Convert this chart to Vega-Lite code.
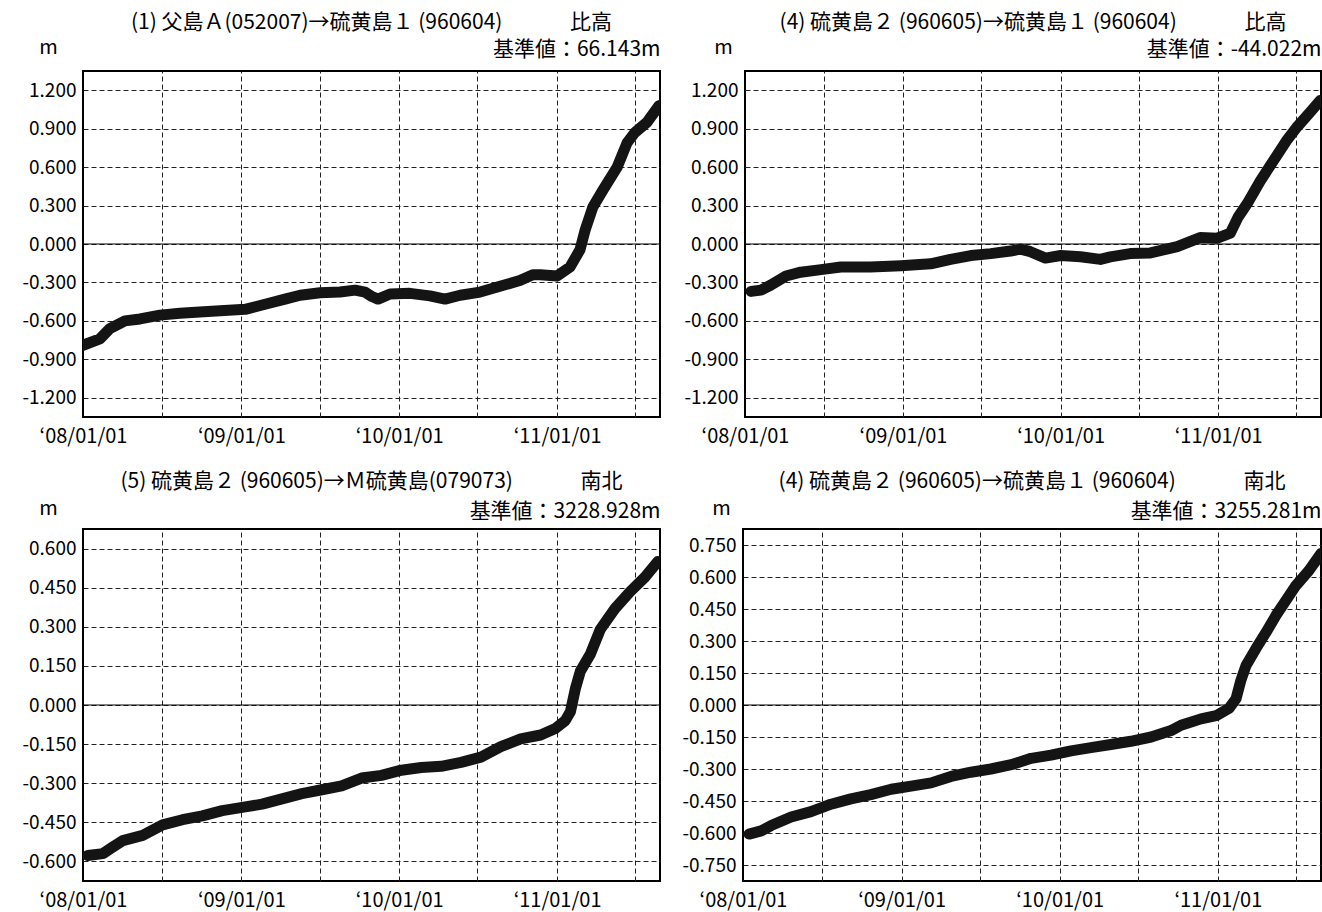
{
  "$schema": "https://vega.github.io/schema/vega-lite/v6.json",
  "background": "white",
  "padding": {"left": 4, "top": 11, "right": 0, "bottom": 0},
  "spacing": 23,
  "config": {
    "view": {"stroke": "#000", "strokeWidth": 2},
    "font": "Noto Sans CJK JP",
    "title": {"font": "Noto Sans CJK JP", "fontSize": 21, "fontWeight": "normal", "color": "#000", "offset": 4, "anchor": "middle"},
    "axis": {"labelFont": "Noto Sans CJK JP", "labelFontSize": 19, "labelColor": "#000", "titleFont": "Noto Sans CJK JP", "titleFontSize": 21, "titleFontWeight": "normal", "titleColor": "#000", "domain": false, "ticks": false, "gridColor": "#222", "gridDash": [5, 3], "gridWidth": 1, "gridOpacity": 1}
  },
  "datasets": {
    "p1": [
      {"date": "2008-01-01", "v": -0.79}, {"date": "2008-02-09", "v": -0.74}, {"date": "2008-03-03", "v": -0.66}, {"date": "2008-04-07", "v": -0.6}, {"date": "2008-05-12", "v": -0.585}, {"date": "2008-06-27", "v": -0.555}, {"date": "2008-08-12", "v": -0.54}, {"date": "2008-09-27", "v": -0.53}, {"date": "2008-11-13", "v": -0.52}, {"date": "2009-01-10", "v": -0.51}, {"date": "2009-02-25", "v": -0.47}, {"date": "2009-04-12", "v": -0.43}, {"date": "2009-05-17", "v": -0.4}, {"date": "2009-07-02", "v": -0.38}, {"date": "2009-08-17", "v": -0.375}, {"date": "2009-09-21", "v": -0.36}, {"date": "2009-10-14", "v": -0.375}, {"date": "2009-10-30", "v": -0.41}, {"date": "2009-11-13", "v": -0.43}, {"date": "2009-12-11", "v": -0.39}, {"date": "2010-01-26", "v": -0.385}, {"date": "2010-03-13", "v": -0.405}, {"date": "2010-04-17", "v": -0.43}, {"date": "2010-05-22", "v": -0.4}, {"date": "2010-07-07", "v": -0.375}, {"date": "2010-08-22", "v": -0.33}, {"date": "2010-10-07", "v": -0.285}, {"date": "2010-11-06", "v": -0.24}, {"date": "2010-11-23", "v": -0.24}, {"date": "2011-01-01", "v": -0.25}, {"date": "2011-01-31", "v": -0.18}, {"date": "2011-02-23", "v": -0.045}, {"date": "2011-03-07", "v": 0.11}, {"date": "2011-03-25", "v": 0.29}, {"date": "2011-04-17", "v": 0.42}, {"date": "2011-05-20", "v": 0.6}, {"date": "2011-06-12", "v": 0.79}, {"date": "2011-06-30", "v": 0.87}, {"date": "2011-07-28", "v": 0.95}, {"date": "2011-08-25", "v": 1.08}
    ],
    "p2": [
      {"date": "2008-01-15", "v": -0.37}, {"date": "2008-02-07", "v": -0.36}, {"date": "2008-03-01", "v": -0.32}, {"date": "2008-04-05", "v": -0.25}, {"date": "2008-05-09", "v": -0.22}, {"date": "2008-06-25", "v": -0.2}, {"date": "2008-08-10", "v": -0.18}, {"date": "2008-10-18", "v": -0.18}, {"date": "2008-12-27", "v": -0.17}, {"date": "2009-03-06", "v": -0.155}, {"date": "2009-04-21", "v": -0.12}, {"date": "2009-06-07", "v": -0.09}, {"date": "2009-07-23", "v": -0.075}, {"date": "2009-09-07", "v": -0.055}, {"date": "2009-09-30", "v": -0.04}, {"date": "2009-10-23", "v": -0.06}, {"date": "2009-11-27", "v": -0.11}, {"date": "2010-01-01", "v": -0.09}, {"date": "2010-02-16", "v": -0.1}, {"date": "2010-04-03", "v": -0.12}, {"date": "2010-04-26", "v": -0.1}, {"date": "2010-06-11", "v": -0.075}, {"date": "2010-07-28", "v": -0.07}, {"date": "2010-09-28", "v": -0.02}, {"date": "2010-11-20", "v": 0.05}, {"date": "2010-12-30", "v": 0.045}, {"date": "2011-01-29", "v": 0.085}, {"date": "2011-02-16", "v": 0.21}, {"date": "2011-03-09", "v": 0.315}, {"date": "2011-04-08", "v": 0.49}, {"date": "2011-05-08", "v": 0.645}, {"date": "2011-06-10", "v": 0.815}, {"date": "2011-07-03", "v": 0.915}, {"date": "2011-08-02", "v": 1.03}, {"date": "2011-08-25", "v": 1.12}
    ],
    "p3": [
      {"date": "2008-01-12", "v": -0.577}, {"date": "2008-02-16", "v": -0.57}, {"date": "2008-03-05", "v": -0.55}, {"date": "2008-04-02", "v": -0.52}, {"date": "2008-05-18", "v": -0.5}, {"date": "2008-07-03", "v": -0.46}, {"date": "2008-08-18", "v": -0.44}, {"date": "2008-10-03", "v": -0.425}, {"date": "2008-11-18", "v": -0.405}, {"date": "2009-01-14", "v": -0.39}, {"date": "2009-02-18", "v": -0.38}, {"date": "2009-04-05", "v": -0.36}, {"date": "2009-05-21", "v": -0.34}, {"date": "2009-07-06", "v": -0.325}, {"date": "2009-08-21", "v": -0.31}, {"date": "2009-10-06", "v": -0.28}, {"date": "2009-11-21", "v": -0.27}, {"date": "2010-01-06", "v": -0.25}, {"date": "2010-02-21", "v": -0.24}, {"date": "2010-04-08", "v": -0.235}, {"date": "2010-05-24", "v": -0.22}, {"date": "2010-07-09", "v": -0.2}, {"date": "2010-08-24", "v": -0.16}, {"date": "2010-10-09", "v": -0.13}, {"date": "2010-11-24", "v": -0.115}, {"date": "2010-12-28", "v": -0.09}, {"date": "2011-01-20", "v": -0.06}, {"date": "2011-02-01", "v": -0.025}, {"date": "2011-02-12", "v": 0.06}, {"date": "2011-02-24", "v": 0.13}, {"date": "2011-03-19", "v": 0.195}, {"date": "2011-04-11", "v": 0.29}, {"date": "2011-05-15", "v": 0.37}, {"date": "2011-06-19", "v": 0.435}, {"date": "2011-07-23", "v": 0.49}, {"date": "2011-08-22", "v": 0.55}
    ],
    "p4": [
      {"date": "2008-01-15", "v": -0.605}, {"date": "2008-02-12", "v": -0.59}, {"date": "2008-03-06", "v": -0.565}, {"date": "2008-04-21", "v": -0.525}, {"date": "2008-06-06", "v": -0.5}, {"date": "2008-07-22", "v": -0.465}, {"date": "2008-09-06", "v": -0.44}, {"date": "2008-10-22", "v": -0.42}, {"date": "2008-12-08", "v": -0.395}, {"date": "2009-01-23", "v": -0.38}, {"date": "2009-03-10", "v": -0.365}, {"date": "2009-04-25", "v": -0.335}, {"date": "2009-06-10", "v": -0.315}, {"date": "2009-07-26", "v": -0.3}, {"date": "2009-09-11", "v": -0.28}, {"date": "2009-10-27", "v": -0.25}, {"date": "2009-12-12", "v": -0.235}, {"date": "2010-01-27", "v": -0.215}, {"date": "2010-03-14", "v": -0.2}, {"date": "2010-04-29", "v": -0.185}, {"date": "2010-06-14", "v": -0.17}, {"date": "2010-07-31", "v": -0.15}, {"date": "2010-09-15", "v": -0.12}, {"date": "2010-10-08", "v": -0.095}, {"date": "2010-11-23", "v": -0.065}, {"date": "2010-12-28", "v": -0.05}, {"date": "2011-01-27", "v": -0.015}, {"date": "2011-02-12", "v": 0.03}, {"date": "2011-02-23", "v": 0.115}, {"date": "2011-03-07", "v": 0.185}, {"date": "2011-03-30", "v": 0.265}, {"date": "2011-04-22", "v": 0.34}, {"date": "2011-05-15", "v": 0.42}, {"date": "2011-06-07", "v": 0.49}, {"date": "2011-06-30", "v": 0.56}, {"date": "2011-07-30", "v": 0.63}, {"date": "2011-08-27", "v": 0.71}
    ]
  },
  "vconcat": [
    {
      "spacing": 4,
      "hconcat": [
        {
          "width": 577, "height": 346,
          "title": {"text": "(1) 父島Ａ(052007)→硫黄島１ (960604)　　　 比高", "offset": 4},
          "layer": [
            {
              "data": {"values": [{"zero": 0}]},
              "mark": {"type": "rule", "color": "#000", "strokeWidth": 1},
              "encoding": {
                "x": {"datum": {"year": 2008, "month": 1, "date": 1}, "type": "temporal", "scale": {"domain": [{"year": 2008, "month": 1, "date": 1}, {"year": 2011, "month": 8, "date": 27}]},
                  "axis": {"orient": "top", "title": "基準値：66.143m", "titleAnchor": "end", "titlePadding": 12, "labels": false, "ticks": false, "grid": true, "minExtent": 0, "maxExtent": 0,
                    "values": [{"year": 2008, "month": 7, "date": 1}, {"year": 2009, "month": 1, "date": 1}, {"year": 2009, "month": 7, "date": 1}, {"year": 2010, "month": 1, "date": 1}, {"year": 2010, "month": 7, "date": 1}, {"year": 2011, "month": 1, "date": 1}, {"year": 2011, "month": 7, "date": 1}]}},
                "x2": {"datum": {"year": 2011, "month": 8, "date": 27}},
                "y": {"field": "zero", "type": "quantitative", "scale": {"domain": [-1.35, 1.35], "nice": false, "zero": false},
                  "axis": {"title": "m", "titleFontSize": 20, "titleAngle": 0, "titleX": -35, "titleY": -24, "titleAlign": "center", "titleBaseline": "middle", "values": [-1.2, -0.9, -0.6, -0.3, 0, 0.3, 0.6, 0.9, 1.2], "format": ".3f", "labelExpr": "replace(datum.label, '−', '-')", "grid": true, "minExtent": 78, "maxExtent": 78, "labelPadding": 7}}
              }
            },
            {
              "data": {"name": "p1"},
              "mark": {"type": "line", "color": "#141414", "strokeWidth": 11, "strokeCap": "round", "strokeJoin": "round", "clip": true},
              "encoding": {
                "x": {"field": "date", "type": "temporal", "scale": {"domain": [{"year": 2008, "month": 1, "date": 1}, {"year": 2011, "month": 8, "date": 27}]},
                  "axis": {"orient": "bottom", "title": null, "format": "‘%y/%m/%d", "grid": false, "labelFlush": false, "labelPadding": 9, "labelFontSize": 20,
                    "values": [{"year": 2008, "month": 1, "date": 1}, {"year": 2009, "month": 1, "date": 1}, {"year": 2010, "month": 1, "date": 1}, {"year": 2011, "month": 1, "date": 1}]}},
                "y": {"field": "v", "type": "quantitative", "scale": {"domain": [-1.35, 1.35], "nice": false, "zero": false},
                  "axis": {"title": "m", "titleFontSize": 20, "titleAngle": 0, "titleX": -35, "titleY": -24, "titleAlign": "center", "titleBaseline": "middle", "values": [-1.2, -0.9, -0.6, -0.3, 0, 0.3, 0.6, 0.9, 1.2], "format": ".3f", "labelExpr": "replace(datum.label, '−', '-')", "grid": true, "minExtent": 78, "maxExtent": 78, "labelPadding": 7}}
              }
            }
          ],
          "resolve": {"axis": {"x": "independent"}}
        },
        {
          "width": 576, "height": 346,
          "title": {"text": "(4) 硫黄島２ (960605)→硫黄島１ (960604)　　　 比高", "offset": 4},
          "layer": [
            {
              "data": {"values": [{"zero": 0}]},
              "mark": {"type": "rule", "color": "#000", "strokeWidth": 1},
              "encoding": {
                "x": {"datum": {"year": 2008, "month": 1, "date": 1}, "type": "temporal", "scale": {"domain": [{"year": 2008, "month": 1, "date": 1}, {"year": 2011, "month": 8, "date": 27}]},
                  "axis": {"orient": "top", "title": "基準値：-44.022m", "titleAnchor": "end", "titlePadding": 12, "labels": false, "ticks": false, "grid": true, "minExtent": 0, "maxExtent": 0,
                    "values": [{"year": 2008, "month": 7, "date": 1}, {"year": 2009, "month": 1, "date": 1}, {"year": 2009, "month": 7, "date": 1}, {"year": 2010, "month": 1, "date": 1}, {"year": 2010, "month": 7, "date": 1}, {"year": 2011, "month": 1, "date": 1}, {"year": 2011, "month": 7, "date": 1}]}},
                "x2": {"datum": {"year": 2011, "month": 8, "date": 27}},
                "y": {"field": "zero", "type": "quantitative", "scale": {"domain": [-1.35, 1.35], "nice": false, "zero": false},
                  "axis": {"title": "m", "titleFontSize": 20, "titleAngle": 0, "titleX": -22, "titleY": -24, "titleAlign": "center", "titleBaseline": "middle", "values": [-1.2, -0.9, -0.6, -0.3, 0, 0.3, 0.6, 0.9, 1.2], "format": ".3f", "labelExpr": "replace(datum.label, '−', '-')", "grid": true, "minExtent": 78, "maxExtent": 78, "labelPadding": 7}}
              }
            },
            {
              "data": {"name": "p2"},
              "mark": {"type": "line", "color": "#141414", "strokeWidth": 11, "strokeCap": "round", "strokeJoin": "round", "clip": true},
              "encoding": {
                "x": {"field": "date", "type": "temporal", "scale": {"domain": [{"year": 2008, "month": 1, "date": 1}, {"year": 2011, "month": 8, "date": 27}]},
                  "axis": {"orient": "bottom", "title": null, "format": "‘%y/%m/%d", "grid": false, "labelFlush": false, "labelPadding": 9, "labelFontSize": 20,
                    "values": [{"year": 2008, "month": 1, "date": 1}, {"year": 2009, "month": 1, "date": 1}, {"year": 2010, "month": 1, "date": 1}, {"year": 2011, "month": 1, "date": 1}]}},
                "y": {"field": "v", "type": "quantitative", "scale": {"domain": [-1.35, 1.35], "nice": false, "zero": false},
                  "axis": {"title": "m", "titleFontSize": 20, "titleAngle": 0, "titleX": -22, "titleY": -24, "titleAlign": "center", "titleBaseline": "middle", "values": [-1.2, -0.9, -0.6, -0.3, 0, 0.3, 0.6, 0.9, 1.2], "format": ".3f", "labelExpr": "replace(datum.label, '−', '-')", "grid": true, "minExtent": 78, "maxExtent": 78, "labelPadding": 7}}
              }
            }
          ],
          "resolve": {"axis": {"x": "independent"}}
        }
      ]
    },
    {
      "spacing": 4,
      "hconcat": [
        {
          "width": 577, "height": 352,
          "title": {"text": "(5) 硫黄島２ (960605)→Ｍ硫黄島(079073)　　　 南北", "offset": 6},
          "layer": [
            {
              "data": {"values": [{"zero": 0}]},
              "mark": {"type": "rule", "color": "#000", "strokeWidth": 1},
              "encoding": {
                "x": {"datum": {"year": 2008, "month": 1, "date": 1}, "type": "temporal", "scale": {"domain": [{"year": 2008, "month": 1, "date": 1}, {"year": 2011, "month": 8, "date": 27}]},
                  "axis": {"orient": "top", "title": "基準値：3228.928m", "titleAnchor": "end", "titlePadding": 8, "labels": false, "ticks": false, "grid": true, "minExtent": 0, "maxExtent": 0,
                    "values": [{"year": 2008, "month": 7, "date": 1}, {"year": 2009, "month": 1, "date": 1}, {"year": 2009, "month": 7, "date": 1}, {"year": 2010, "month": 1, "date": 1}, {"year": 2010, "month": 7, "date": 1}, {"year": 2011, "month": 1, "date": 1}, {"year": 2011, "month": 7, "date": 1}]}},
                "x2": {"datum": {"year": 2011, "month": 8, "date": 27}},
                "y": {"field": "zero", "type": "quantitative", "scale": {"domain": [-0.675, 0.675], "nice": false, "zero": false},
                  "axis": {"title": "m", "titleFontSize": 20, "titleAngle": 0, "titleX": -35, "titleY": -21, "titleAlign": "center", "titleBaseline": "middle", "values": [-0.6, -0.45, -0.3, -0.15, 0, 0.15, 0.3, 0.45, 0.6], "format": ".3f", "labelExpr": "replace(datum.label, '−', '-')", "grid": true, "minExtent": 78, "maxExtent": 78, "labelPadding": 7}}
              }
            },
            {
              "data": {"name": "p3"},
              "mark": {"type": "line", "color": "#141414", "strokeWidth": 11, "strokeCap": "round", "strokeJoin": "round", "clip": true},
              "encoding": {
                "x": {"field": "date", "type": "temporal", "scale": {"domain": [{"year": 2008, "month": 1, "date": 1}, {"year": 2011, "month": 8, "date": 27}]},
                  "axis": {"orient": "bottom", "title": null, "format": "‘%y/%m/%d", "grid": false, "labelFlush": false, "labelPadding": 9, "labelFontSize": 20,
                    "values": [{"year": 2008, "month": 1, "date": 1}, {"year": 2009, "month": 1, "date": 1}, {"year": 2010, "month": 1, "date": 1}, {"year": 2011, "month": 1, "date": 1}]}},
                "y": {"field": "v", "type": "quantitative", "scale": {"domain": [-0.675, 0.675], "nice": false, "zero": false},
                  "axis": {"title": "m", "titleFontSize": 20, "titleAngle": 0, "titleX": -35, "titleY": -21, "titleAlign": "center", "titleBaseline": "middle", "values": [-0.6, -0.45, -0.3, -0.15, 0, 0.15, 0.3, 0.45, 0.6], "format": ".3f", "labelExpr": "replace(datum.label, '−', '-')", "grid": true, "minExtent": 78, "maxExtent": 78, "labelPadding": 7}}
              }
            }
          ],
          "resolve": {"axis": {"x": "independent"}}
        },
        {
          "width": 578, "height": 352,
          "title": {"text": "(4) 硫黄島２ (960605)→硫黄島１ (960604)　　　 南北", "offset": 6},
          "layer": [
            {
              "data": {"values": [{"zero": 0}]},
              "mark": {"type": "rule", "color": "#000", "strokeWidth": 1},
              "encoding": {
                "x": {"datum": {"year": 2008, "month": 1, "date": 1}, "type": "temporal", "scale": {"domain": [{"year": 2008, "month": 1, "date": 1}, {"year": 2011, "month": 8, "date": 27}]},
                  "axis": {"orient": "top", "title": "基準値：3255.281m", "titleAnchor": "end", "titlePadding": 8, "labels": false, "ticks": false, "grid": true, "minExtent": 0, "maxExtent": 0,
                    "values": [{"year": 2008, "month": 7, "date": 1}, {"year": 2009, "month": 1, "date": 1}, {"year": 2009, "month": 7, "date": 1}, {"year": 2010, "month": 1, "date": 1}, {"year": 2010, "month": 7, "date": 1}, {"year": 2011, "month": 1, "date": 1}, {"year": 2011, "month": 7, "date": 1}]}},
                "x2": {"datum": {"year": 2011, "month": 8, "date": 27}},
                "y": {"field": "zero", "type": "quantitative", "scale": {"domain": [-0.825, 0.825], "nice": false, "zero": false},
                  "axis": {"title": "m", "titleFontSize": 20, "titleAngle": 0, "titleX": -22, "titleY": -21, "titleAlign": "center", "titleBaseline": "middle", "values": [-0.75, -0.6, -0.45, -0.3, -0.15, 0, 0.15, 0.3, 0.45, 0.6, 0.75], "format": ".3f", "labelExpr": "replace(datum.label, '−', '-')", "grid": true, "minExtent": 76, "maxExtent": 76, "labelPadding": 7}}
              }
            },
            {
              "data": {"name": "p4"},
              "mark": {"type": "line", "color": "#141414", "strokeWidth": 11, "strokeCap": "round", "strokeJoin": "round", "clip": true},
              "encoding": {
                "x": {"field": "date", "type": "temporal", "scale": {"domain": [{"year": 2008, "month": 1, "date": 1}, {"year": 2011, "month": 8, "date": 27}]},
                  "axis": {"orient": "bottom", "title": null, "format": "‘%y/%m/%d", "grid": false, "labelFlush": false, "labelPadding": 9, "labelFontSize": 20,
                    "values": [{"year": 2008, "month": 1, "date": 1}, {"year": 2009, "month": 1, "date": 1}, {"year": 2010, "month": 1, "date": 1}, {"year": 2011, "month": 1, "date": 1}]}},
                "y": {"field": "v", "type": "quantitative", "scale": {"domain": [-0.825, 0.825], "nice": false, "zero": false},
                  "axis": {"title": "m", "titleFontSize": 20, "titleAngle": 0, "titleX": -22, "titleY": -21, "titleAlign": "center", "titleBaseline": "middle", "values": [-0.75, -0.6, -0.45, -0.3, -0.15, 0, 0.15, 0.3, 0.45, 0.6, 0.75], "format": ".3f", "labelExpr": "replace(datum.label, '−', '-')", "grid": true, "minExtent": 76, "maxExtent": 76, "labelPadding": 7}}
              }
            }
          ],
          "resolve": {"axis": {"x": "independent"}}
        }
      ]
    }
  ]
}
